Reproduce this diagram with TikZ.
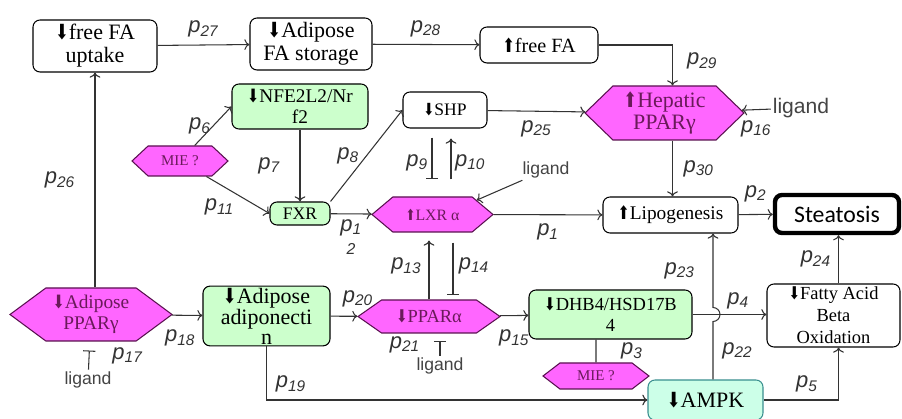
\documentclass[tikz,border=0pt]{standalone}
\usepackage{fontspec}
\setmainfont{Liberation Serif}
\setsansfont{Liberation Sans}
\newfontfamily\calfont{Carlito}
\newfontfamily\arrfont{DejaVu Sans}
\usetikzlibrary{shapes.symbols,arrows.meta}

\definecolor{hexpink}{HTML}{FF66FF}
\definecolor{hexline}{HTML}{5A1050}
\definecolor{hextext}{HTML}{6A1A5A}
\definecolor{boxgreen}{HTML}{CCFFCC}
\definecolor{ampkfill}{HTML}{CCFFE8}
\definecolor{ampkline}{HTML}{3A8F8F}
\definecolor{lblgray}{HTML}{333333}
\definecolor{liggray}{HTML}{444444}

\newcommand{\dnar}{{\arrfont\scalebox{0.75}[0.95]{⬇}}}
\newcommand{\upar}{{\arrfont\scalebox{0.75}[0.95]{⬆}}}
\newcommand{\pl}[1]{\textit{p}\textsubscript{\itshape #1}}

\tikzset{
  box/.style={draw, line width=0.6pt, rounded corners=4pt, fill=white, align=center, inner sep=1pt, font=\fontsize{12.5}{13}\selectfont},
  greenbox/.style={box, fill=boxgreen},
  hexa/.style={signal, signal to=east and west, draw=hexline, line width=0.6pt, fill=hexpink, text=hextext, align=center, inner sep=1pt},
  lbl/.style={font=\sffamily\fontsize{12.5}{13}\selectfont, text=lblgray, inner sep=1pt},
  lig/.style={font=\sffamily\fontsize{10}{11}\selectfont, text=liggray, inner sep=1pt},
  conn/.style={->, line width=0.6pt, draw=lblgray},
  inhib/.style={-{Bar[width=7pt]}, line width=0.6pt, draw=lblgray},
  link/.style={line width=0.6pt, draw=lblgray},
}

\begin{document}
\begin{tikzpicture}
\useasboundingbox (0,0) rectangle (18.04,-8.38);

% Top row
\node[box, minimum width=2.48cm, minimum height=1.04cm] (uptake) at (1.9,-0.92) {\dnar free FA\\uptake};
\node[box, minimum width=2.44cm, minimum height=1.04cm] (storage) at (6.22,-0.88) {\dnar Adipose\\FA storage};
\node[box, minimum width=2.36cm, minimum height=0.72cm, font=\fontsize{11.5}{12}\selectfont] (freefa) at (10.78,-0.9) {\upar free FA};

% Liver
\node[hexa, signal pointer angle=88, minimum width=3.18cm, minimum height=1.08cm, font=\fontsize{12.5}{12}\selectfont] (hepatic) at (13.29,-2.26) {\upar Hepatic\\PPARγ};
\node[lig, font=\sffamily\fontsize{12}{13}\selectfont] (hlig) at (16.02,-2.16) {ligand};
\node[box, minimum width=1.68cm, minimum height=0.72cm, font=\fontsize{10}{11}\selectfont] (shp) at (8.9,-2.2) {\dnar SHP};
\node[greenbox, minimum width=2.72cm, minimum height=0.9cm, font=\fontsize{11}{12}\selectfont] (nfe) at (6.0,-2.13) {\dnar NFE2L2/Nr\\f2};
\node[hexa, signal pointer angle=86, minimum width=1.92cm, minimum height=0.6cm, font=\fontsize{8.5}{9}\selectfont] (mie1) at (3.6,-3.22) {MIE ?};
\node[greenbox, minimum width=1.2cm, minimum height=0.46cm, font=\fontsize{10}{11}\selectfont] (fxr) at (6.0,-4.27) {FXR};
\node[hexa, signal pointer angle=80, minimum width=2.42cm, minimum height=0.7cm, font=\fontsize{9}{10}\selectfont] (lxr) at (8.65,-4.29) {\upar LXR α};
\node[lig] (llig) at (10.92,-3.4) {ligand};
\node[box, minimum width=2.7cm, minimum height=0.72cm, font=\fontsize{11}{12}\selectfont] (lipo) at (13.41,-4.3) {\upar Lipogenesis};
\node[box, line width=2.5pt, minimum width=2.48cm, minimum height=0.76cm, font=\calfont\fontsize{13.5}{14}\selectfont] (steat) at (16.74,-4.28) {Steatosis};

% Bottom row
\node[hexa, signal pointer angle=73, minimum width=3.24cm, minimum height=1.06cm, font=\fontsize{11}{12}\selectfont] (adppar) at (1.82,-6.29) {\dnar Adipose\\PPARγ};
\node[lig] (alig) at (1.76,-7.6) {ligand};
\node[greenbox, minimum width=2.54cm, minimum height=1.04cm, font=\fontsize{12.5}{11}\selectfont] (adipo) at (5.33,-6.32) {\dnar Adipose\\adiponecti\\n};
\node[hexa, signal pointer angle=70, minimum width=2.84cm, minimum height=0.66cm, font=\fontsize{10.5}{11}\selectfont] (ppara) at (8.58,-6.33) {\dnar PPARα};
\node[lig] (plig) at (8.8,-7.32) {ligand};
\node[greenbox, minimum width=3.26cm, minimum height=0.98cm, font=\fontsize{10.5}{12}\selectfont] (dhb) at (12.21,-6.29) {\dnar DHB4/HSD17B\\4};
\node[hexa, signal pointer angle=75, minimum width=2.12cm, minimum height=0.52cm, font=\fontsize{8.5}{9}\selectfont] (mie2) at (11.92,-7.52) {MIE ?};
\node[box, fill=ampkfill, draw=ampkline, minimum width=2.3cm, minimum height=0.8cm, font=\fontsize{12.5}{13}\selectfont] (ampk) at (14.11,-8.0) {\dnar AMPK};
\node[box, minimum width=2.66cm, minimum height=1.26cm, font=\fontsize{10.5}{12.5}\selectfont] (fao) at (16.67,-6.31) {\dnar Fatty Acid\\Beta\\Oxidation};

% Arrows, top
\draw[conn] (uptake) -- node[lbl, above=3pt] {\pl{27}} (storage);
\draw[conn] (storage) -- node[lbl, above=3pt] {\pl{28}} (freefa);
\draw[conn] (freefa) -| node[lbl, pos=0.7, right=7pt] {\pl{29}} ([xshift=0.16cm]hepatic.north);
\draw[conn] (hlig) -- node[lbl, below=5pt] {\pl{16}} (hepatic);
\draw[conn] (shp) -- node[lbl, below=4pt] {\pl{25}} (hepatic);

% Arrows, middle
\draw[conn] (mie1) -- node[lbl, left=0pt] {\pl{6}} (nfe.west);
\draw[conn] (nfe) -- node[lbl, left=10pt] {\pl{7}} (fxr);
\draw[conn] (mie1) -- node[lbl, below left=1pt] {\pl{11}} (fxr.west);
\draw[conn] (fxr.north east) -- node[lbl, left=3pt] {\pl{8}} (shp.west);
\draw[conn] (fxr) -- node[lbl, below=2pt, align=center] {\pl{1}\\{\fontsize{9}{9}\selectfont\itshape 2}} (lxr);
\draw[inhib, shorten <=0.18cm, shorten >=0.34cm] ([xshift=-0.26cm]shp.south) -- node[lbl, left=1pt] {\pl{9}} ([xshift=-0.26cm]shp.south |- lxr.north);
\draw[conn, shorten <=0.34cm, shorten >=0.2cm] ([xshift=0.12cm]shp.south |- lxr.north) -- node[lbl, right=1pt] {\pl{10}} ([xshift=0.12cm]shp.south);
\draw[conn] (llig) -- (lxr.18);
\draw[conn] (lxr) -- node[lbl, below=4pt] {\pl{1}} (lipo);
\draw[conn] ([xshift=0.16cm]hepatic.south) -- node[lbl, right=5pt] {\pl{30}} ([xshift=0.16cm]hepatic.south |- lipo.north);
\draw[conn] (lipo) -- node[lbl, above=6pt] {\pl{2}} (steat);
\draw[conn, shorten >=0.16cm] (ppara.north) -- node[lbl, left=3pt] {\pl{13}} (ppara.north |- lxr.south);
\draw[inhib, shorten <=0.2cm, shorten >=0.08cm] ([xshift=0.48cm]ppara.north |- lxr.south) -- node[lbl, right=2pt] {\pl{14}} ([xshift=0.48cm]ppara.north);

% Arrows, bottom
\draw[conn] (adppar.north -| uptake.south) -- node[lbl, left=10pt] {\pl{26}} (uptake.south);
\draw[inhib, shorten >=0.18cm] (alig) -- node[lbl, right=12pt] {\pl{17}} (adppar);
\draw[conn] (adppar) -- node[lbl, below=7pt, xshift=-4pt] {\pl{18}} (adipo);
\draw[conn] (adipo) -- node[lbl, above=4pt, xshift=8pt] {\pl{20}} (ppara);
\draw[inhib, shorten >=0.14cm] (plig) -- node[lbl, left=10pt] {\pl{21}} (plig |- ppara.south);
\draw[conn] (ppara) -- node[lbl, below=7pt] {\pl{15}} (dhb);
\draw[link] (mie2) -- node[lbl, right=13pt] {\pl{3}} (mie2 |- dhb.south);
\draw[conn] (adipo) |- node[lbl, pos=0.35, right=4pt] {\pl{19}} (ampk);
\coordinate (hop) at ([xshift=0.15cm]ampk.north |- dhb.east);
\draw[conn] ([xshift=0.15cm]ampk.north) -- node[lbl, right=4pt] {\pl{22}} ([yshift=-0.14cm]hop) arc[start angle=-90, end angle=90, radius=0.14cm] -- node[lbl, left=9pt] {\pl{23}} ([xshift=0.15cm]ampk.north |- lipo.south);
\draw[conn] (dhb) -- node[lbl, above=2pt, xshift=5pt] {\pl{4}} (dhb -| fao.west);
\draw[conn] (ampk) -| node[lbl, pos=0.29, above=3pt] {\pl{5}} ([xshift=0.1cm]fao.south);
\draw[conn] ([xshift=0.1cm]fao.north) -- node[lbl, left=3pt] {\pl{24}} ([xshift=0.1cm]fao.north |- steat.south);

\end{tikzpicture}
\end{document}
